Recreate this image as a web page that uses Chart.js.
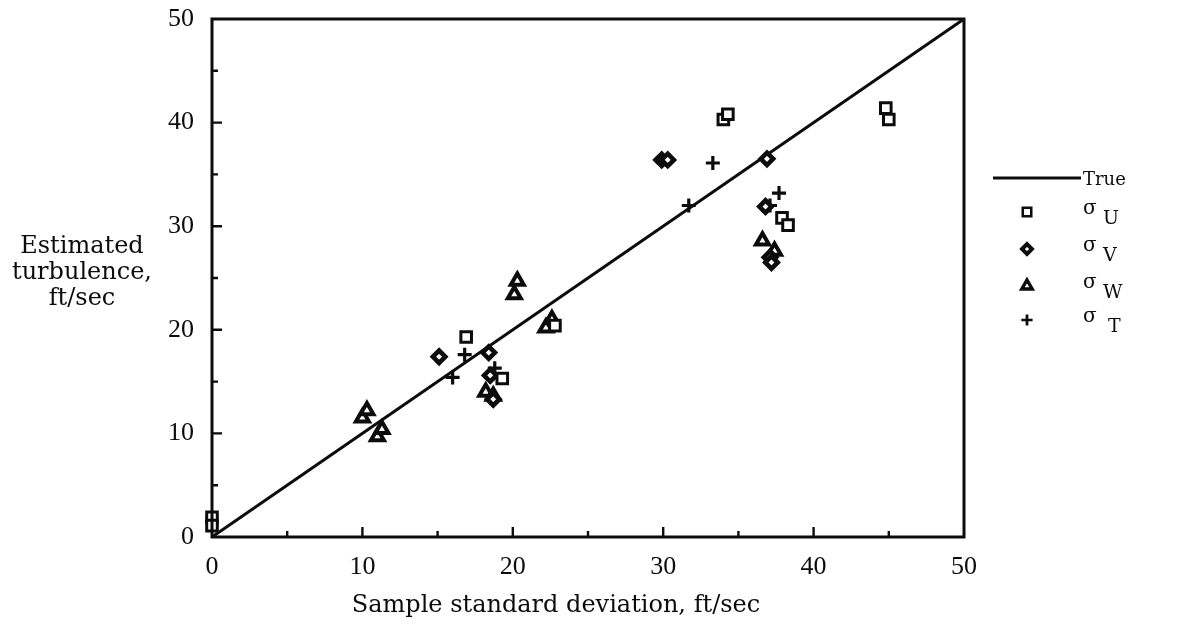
<!DOCTYPE html>
<html>
<head>
<meta charset="utf-8">
<script src="https://cdn.jsdelivr.net/npm/chart.js@4/dist/chart.umd.min.js"></script>
<style>
    html, body { margin: 0; padding: 0; background: #fff; }
    #wrap { position: relative; width: 1177px; height: 627px; }
</style>
</head>
<body>
<div id="wrap"><canvas id="turbChart" width="1177" height="627"></canvas></div>
<script>
// sample standard deviation (x) vs estimated turbulence (y), ft/sec
const trueX = [0, 50];
const trueY = [0, 50];

const sigmaUX = [0, 0, 16.9, 19.3, 22.8, 34.0, 34.3, 37.9, 38.3, 44.8, 45.0];
const sigmaUY = [1.9, 1.1, 19.3, 15.3, 20.4, 40.3, 40.8, 30.8, 30.1, 41.4, 40.3];

const sigmaVX = [15.1, 18.4, 18.5, 18.7, 29.9, 30.3, 36.9, 36.8, 37.1, 37.2];
const sigmaVY = [17.4, 17.8, 15.6, 13.3, 36.4, 36.4, 36.5, 31.9, 27.0, 26.5];

const sigmaWX = [10.0, 10.3, 11.0, 11.3, 18.2, 18.7, 20.1, 20.3, 22.2, 22.6, 36.6, 37.4];
const sigmaWY = [11.5, 12.2, 9.7, 10.4, 14.0, 13.6, 23.4, 24.7, 20.2, 21.0, 28.6, 27.6];

const sigmaTX = [16.0, 16.8, 18.8, 31.7, 33.3, 37.1, 37.7];
const sigmaTY = [15.4, 17.6, 16.3, 32.0, 36.1, 32.0, 33.2];

const xTicks = [0, 10, 20, 30, 40, 50];
const yTicks = [0, 10, 20, 30, 40, 50];

const legendItems = [
    { label: 'True', sub: '' },
    { label: 'σ', sub: 'U' },
    { label: 'σ', sub: 'V' },
    { label: 'σ', sub: 'W' },
    { label: 'σ', sub: 'T' }
];

const yTitle = ['Estimated', 'turbulence,', 'ft/sec'];
const xTitle = 'Sample standard deviation, ft/sec';

const INK = '#0c0c0c';
const TEXT_FONT = '"DejaVu Serif", serif';
const NUM_FONT = '"Liberation Serif", serif';

function toPoints(xs, ys) {
    return xs.map((x, i) => ({ x: x, y: ys[i] }));
}

function markerSet(label, xs, ys, style, radius, width) {
    return {
        label: label,
        data: toPoints(xs, ys),
        showLine: false,
        clip: false,
        pointStyle: style,
        pointRadius: radius,
        pointHoverRadius: radius,
        pointBorderWidth: width,
        pointBorderColor: INK,
        pointBackgroundColor: '#fff'
    };
}

const datasets = [
    markerSet('σU', sigmaUX, sigmaUY, 'rect', 7.5, 3),
    markerSet('σV', sigmaVX, sigmaVY, 'rectRot', 6.2, 4.6),
    markerSet('σW', sigmaWX, sigmaWY, 'triangle', 7.5, 4),
    markerSet('σT', sigmaTX, sigmaTY, 'cross', 7, 3.2),
    {
        label: 'True',
        data: toPoints(trueX, trueY),
        showLine: true,
        clip: false,
        borderColor: INK,
        borderWidth: 3,
        pointRadius: 0,
        fill: false
    }
];

// frame, inward tick marks, axis titles and the legend on the right
const decorPlugin = {
    id: 'decor',
    afterDraw(chart) {
        const ctx = chart.ctx;
        const area = chart.chartArea;
        const xs = chart.scales.x;
        const ys = chart.scales.y;
        ctx.save();
        ctx.strokeStyle = INK;
        ctx.lineWidth = 3;
        ctx.strokeRect(area.left, area.top, area.right - area.left, area.bottom - area.top);

        ctx.lineWidth = 2.4;
        ctx.beginPath();
        for (let v = 5; v < 50; v += 5) {
            const len = v % 10 === 0 ? 10 : 6;
            const px = xs.getPixelForValue(v);
            ctx.moveTo(px, area.bottom);
            ctx.lineTo(px, area.bottom - len);
            const py = ys.getPixelForValue(v);
            ctx.moveTo(area.left, py);
            ctx.lineTo(area.left + len, py);
        }
        ctx.stroke();

        ctx.fillStyle = INK;
        ctx.textAlign = 'center';
        ctx.textBaseline = 'alphabetic';
        ctx.font = '24px ' + TEXT_FONT;
        yTitle.forEach((line, i) => ctx.fillText(line, 82, 253 + i * 26));
        ctx.fillText(xTitle, 556, 612);

        // legend
        const mx = 1027;
        const rows = [178, 212, 249, 286, 320];
        ctx.lineWidth = 3;
        ctx.beginPath();
        ctx.moveTo(993, rows[0]);
        ctx.lineTo(1081, rows[0]);
        ctx.stroke();
        for (let i = 0; i < 4; i++) {
            const ds = chart.data.datasets[i];
            ctx.lineWidth = ds.pointBorderWidth * 0.85;
            ctx.strokeStyle = ds.pointBorderColor;
            ctx.fillStyle = ds.pointBackgroundColor;
            Chart.helpers.drawPoint(ctx, {
                pointStyle: ds.pointStyle,
                radius: ds.pointRadius * 0.8,
                borderWidth: ds.pointBorderWidth,
                rotation: 0
            }, mx, rows[i + 1]);
        }
        ctx.fillStyle = INK;
        ctx.textAlign = 'left';
        ctx.font = '18px ' + TEXT_FONT;
        ctx.fillText(legendItems[0].label, 1083, rows[0] + 7);
        for (let i = 1; i < legendItems.length; i++) {
            const y = rows[i] + 2;
            ctx.font = '20px ' + TEXT_FONT;
            ctx.fillText(legendItems[i].label, 1083, y);
            ctx.font = '19px ' + TEXT_FONT;
            const off = legendItems[i].sub === 'T' ? 25 : 20;
            ctx.fillText(legendItems[i].sub, 1083 + off, y + 10);
        }
        ctx.restore();
    }
};

const ctx = document.getElementById('turbChart').getContext('2d');
new Chart(ctx, {
    type: 'scatter',
    data: { datasets: datasets },
    plugins: [decorPlugin],
    options: {
        responsive: false,
        animation: false,
        layout: { padding: { left: 0, right: 213, top: 19, bottom: 0 } },
        plugins: {
            legend: { display: false },
            tooltip: { enabled: false }
        },
        scales: {
            x: {
                type: 'linear',
                min: 0,
                max: 50,
                afterFit(scale) {
                    scale.height = 90;
                    scale.paddingLeft = 0;
                    scale.paddingRight = 0;
                },
                afterBuildTicks(scale) { scale.ticks = xTicks.map(v => ({ value: v })); },
                grid: { display: false },
                border: { display: false },
                ticks: {
                    color: INK,
                    padding: 7,
                    font: { family: NUM_FONT, size: 26 },
                    maxRotation: 0
                }
            },
            y: {
                type: 'linear',
                min: 0,
                max: 50,
                afterFit(scale) {
                    scale.width = 212;
                    scale.paddingTop = 0;
                    scale.paddingBottom = 0;
                },
                afterBuildTicks(scale) { scale.ticks = yTicks.map(v => ({ value: v })); },
                grid: { display: false },
                border: { display: false },
                ticks: {
                    color: INK,
                    padding: 10,
                    font: { family: NUM_FONT, size: 26 }
                }
            }
        }
    }
});
</script>
</body>
</html>
